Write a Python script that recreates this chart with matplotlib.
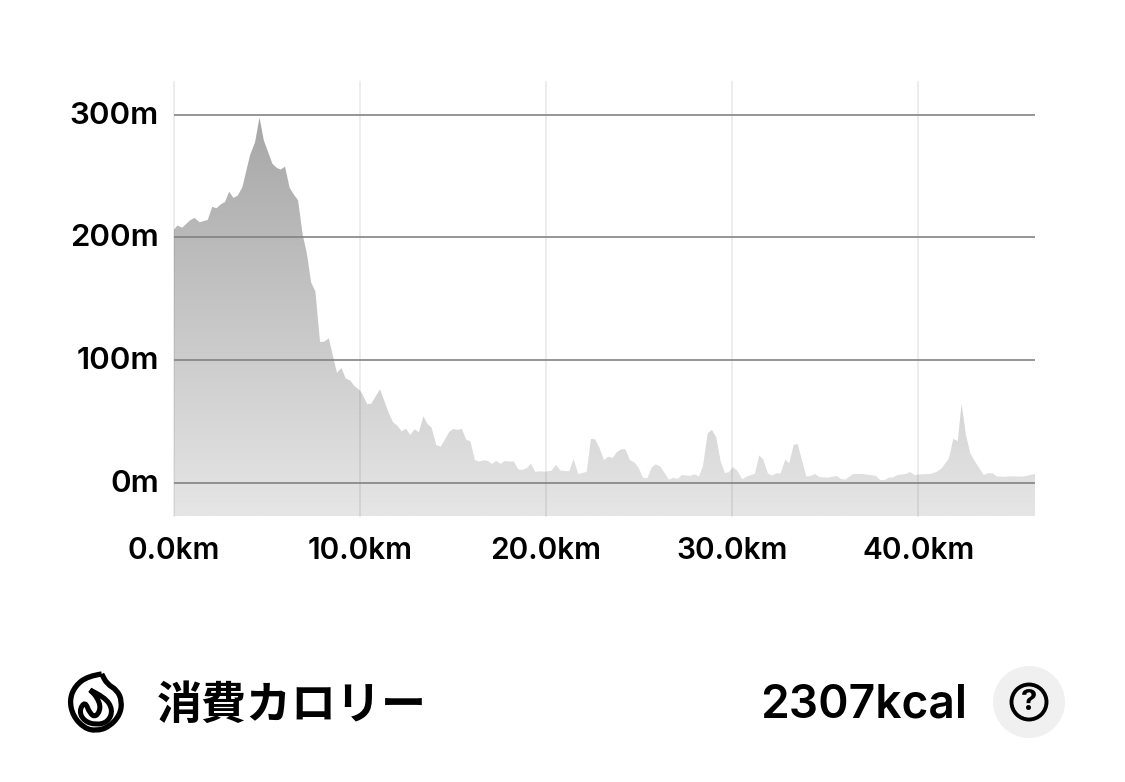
import numpy as np
import matplotlib
matplotlib.use('Agg')
import matplotlib.pyplot as plt
from matplotlib.colors import LinearSegmentedColormap
from matplotlib.patches import Circle, PathPatch, Polygon
from matplotlib.path import Path
from matplotlib.transforms import ScaledTranslation

# 距離 (km) と標高 (m)
dist_km = [0, .21, .47, .89, 1.13, 1.40, 1.84, 2.08, 2.31, 2.54, 2.77, 2.99, 3.22, 3.45, 3.70, 4.11, 4.38, 4.62, 4.85,
           5.31, 5.55, 5.76, 5.99, 6.24, 6.48, 6.69, 6.94, 7.16, 7.39, 7.62, 7.87, 8.10, 8.34, 8.78, 9.02, 9.25, 9.48,
           9.71, 10.02, 10.16, 10.41, 10.63, 11.09, 11.56, 11.79, 12.02, 12.25, 12.49, 12.72, 12.95, 13.18, 13.42,
           13.65, 13.86, 14.11, 14.35, 14.58, 14.81, 15.03, 15.26, 15.49, 15.73, 15.94, 16.19, 16.42, 16.66, 16.89,
           17.10, 17.34, 17.57, 17.80, 18.04, 18.27, 18.52, 18.75, 18.99, 19.20, 19.43, 19.67, 19.95, 20.31, 20.54,
           20.79, 21.26, 21.49, 21.74, 22.19, 22.42, 22.64, 22.89, 23.12, 23.35, 23.59, 23.82, 24.05, 24.27, 24.52,
           24.75, 24.98, 25.21, 25.45, 25.68, 25.90, 26.15, 26.61, 26.84, 27.08, 27.31, 27.74, 27.99, 28.22, 28.44,
           28.69, 28.92, 29.15, 29.39, 29.62, 29.82, 30.05, 30.28, 30.55, 30.78, 31.23, 31.46, 31.68, 31.93, 32.16,
           32.39, 32.61, 32.86, 33.07, 33.31, 33.52, 33.99, 34.22, 34.45, 34.69, 35.15, 35.62, 35.85, 36.08, 36.51,
           36.98, 37.73, 37.96, 38.19, 38.43, 38.66, 38.89, 39.34, 39.56, 39.79, 40.22, 40.66, 40.99, 41.26, 41.65,
           41.88, 42.12, 42.33, 42.56, 42.81, 43.05, 43.51, 43.73, 43.98, 44.21, 44.66, 44.93, 45.64, 46.27]
elev_m = [205.8, 209.6, 207.9, 213.9, 215.8, 212.3, 214.2, 224.8, 223.7, 226.9, 228.8, 237.2, 232.1, 234.0, 240.8,
          266.8, 277.4, 297.5, 279.0, 260.0, 256.5, 255.2, 257.6, 240.2, 234.5, 230.2, 202.0, 187.3, 163.4, 156.1,
          114.8, 115.1, 117.8, 89.6, 93.6, 85.0, 83.6, 79.0, 75.2, 71.9, 64.1, 64.6, 76.3, 57.0, 49.4, 46.7, 42.1,
          44.2, 39.1, 43.7, 41.3, 54.3, 47.8, 45.1, 30.9, 29.6, 35.3, 41.5, 44.0, 43.2, 44.0, 35.0, 34.2, 18.7, 17.4,
          18.5, 17.9, 15.5, 17.9, 15.5, 17.9, 17.4, 17.6, 11.1, 10.6, 12.2, 15.7, 9.0, 9.5, 9.2, 10.0, 14.7, 10.0,
          9.5, 19.5, 7.3, 9.0, 35.8, 35.6, 28.2, 18.5, 21.4, 20.4, 25.2, 27.4, 27.4, 18.5, 16.8, 12.5, 4.3, 3.8, 12.5,
          15.2, 13.3, 2.7, 4.1, 3.3, 6.5, 5.7, 7.1, 5.2, 13.8, 40.4, 43.2, 37.2, 17.4, 8.1, 8.7, 12.8, 10.0, 3.0, 5.2,
          7.6, 22.5, 19.0, 7.6, 6.0, 7.9, 7.9, 19.0, 16.0, 30.9, 31.8, 5.2, 5.7, 7.3, 4.9, 4.3, 5.7, 3.3, 2.7, 7.3,
          7.3, 5.7, 2.4, 2.4, 4.3, 4.6, 6.5, 7.3, 9.0, 6.5, 7.1, 7.3, 9.0, 11.9, 20.1, 35.8, 34.2, 64.3, 39.1, 23.6,
          17.4, 6.5, 7.9, 7.9, 5.4, 4.9, 5.4, 5.2, 7.3]
x_ticks = [0, 10, 20, 30, 40]
x_labels = ['0.0km', '10.0km', '20.0km', '30.0km', '40.0km']
y_ticks = [0, 100, 200, 300]
y_labels = ['0m', '100m', '200m', '300m']
title = '消費カロリー'
total = '2307kcal'

W, H = 1125, 782
plt.rcParams['font.family'] = ['Inter', 'Noto Sans CJK JP', 'DejaVu Sans']
fig = plt.figure(figsize=(W / 100, H / 100), dpi=100)

# 全体に重ねる座標系（アイコンと下のテキスト用、単位はピクセル）
over = fig.add_axes([0, 0, 1, 1])
over.set_xlim(0, W)
over.set_ylim(H, 0)
over.axis('off')

ax = fig.add_axes([173.5 / W, 1 - 516 / H, (1035 - 173.5) / W, (516 - 82) / H])
ax.set_xlim(0, 46.27)
ax.set_ylim(-26.9, 326.5)
ax.patch.set_alpha(0)
for s in ax.spines.values():
    s.set_visible(False)

# グラデーションの塗り
cmap = LinearSegmentedColormap.from_list('fill', ['#a6a6a6', '#e6e6e6'])
im = ax.imshow(np.linspace(0, 1, 256).reshape(-1, 1), cmap=cmap, aspect='auto',
               extent=[0, 46.27, -26.9, 300], zorder=1)
verts = [(0, -26.9)] + list(zip(dist_km, elev_m)) + [(46.27, -26.9)]
poly = Polygon(verts, closed=True, transform=ax.transData, fc='none', ec='none')
ax.add_patch(poly)
im.set_clip_path(poly)

for t in x_ticks:
    ax.axvline(t, color='black', alpha=0.08, lw=1.3, zorder=2, clip_on=False)
for t in y_ticks:
    ax.axhline(t, color='#7f7f7f', lw=1.15, zorder=3)

ax.set_xticks(x_ticks, x_labels, fontsize=21.5, fontweight='semibold')
ax.set_yticks(y_ticks, y_labels, fontsize=22.5, fontweight='semibold')
ax.tick_params(axis='both', length=0, colors='black')
ax.tick_params(axis='x', pad=15)
ax.tick_params(axis='y', pad=10.5)
# 縦軸ラベルは目盛りより2pxほど上
up = ScaledTranslation(0, 2 / 100, fig.dpi_scale_trans)
for lab in ax.get_yticklabels():
    lab.set_transform(lab.get_transform() + up)

# 炎のアイコン
def smooth(pts):
    pts = np.array(pts, float)
    verts = [pts[0]]
    codes = [Path.MOVETO]
    for i in range(1, len(pts) - 1):
        verts += [pts[i], (pts[i] + pts[i + 1]) / 2]
        codes += [Path.CURVE3, Path.CURVE3]
    verts.append(pts[-1])
    codes.append(Path.LINETO)
    return Path(verts, codes)

outer = [(101.7, 674), (88, 676), (75, 686), (69.5, 700), (73, 716), (84, 728), (96, 731), (109, 727), (120, 715),
         (122, 701), (117, 690), (107, 684), (101.7, 674)]
inner = [(90, 690), (105, 697), (113, 710), (108, 722), (96, 725), (84, 721), (79, 711), (85, 701), (90, 714),
         (96, 717), (101, 708), (97, 697), (90, 690)]
over.add_patch(PathPatch(smooth(outer), fc='none', ec='black', lw=3.8, joinstyle='round'))
over.add_patch(PathPatch(smooth(inner), fc='none', ec='black', lw=3.6, joinstyle='round'))

over.text(157, 706, title, fontsize=32.4, fontweight='bold', family=['Noto Sans CJK JP', 'DejaVu Sans'],
          ha='left', va='center', color='black')
over.text(967.5, 706, total, fontsize=33.2, fontweight='semibold', ha='right', va='center', color='black')

# ヘルプボタン
over.add_patch(Circle((1029, 702), 36, fc='#f0f0f0', ec='none'))
over.add_patch(Circle((1029, 702), 17.5, fc='none', ec='black', lw=2.8))
over.text(1029, 703, '?', fontsize=21, fontweight='bold', ha='center', va='center', color='black')

fig.savefig('out.png', dpi=100)
